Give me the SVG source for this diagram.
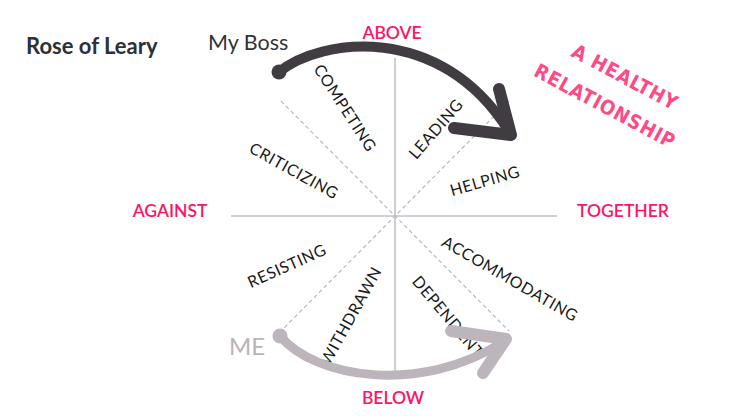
<svg xmlns="http://www.w3.org/2000/svg" width="740" height="416" viewBox="0 0 740 416">
<style>
.title{font-family:Lato,"Liberation Sans",sans-serif;font-weight:700;font-size:22px;fill:#2e3038}
.boss{font-family:Lato,"Liberation Sans",sans-serif;font-size:21.5px;fill:#333338}
.me{font-family:Lato,"Liberation Sans",sans-serif;font-size:24px;fill:#bab3b9}
.dir{font-family:Lato,"Liberation Sans",sans-serif;font-weight:600;font-size:17.5px;fill:#ff1464}
.oct{font-family:Lato,"Liberation Sans",sans-serif;font-size:16px;fill:#1a1a1a;letter-spacing:0.6px;text-anchor:middle}
.healthy{font-family:"DejaVu Sans Condensed","DejaVu Sans",sans-serif;font-weight:900;font-size:20px;fill:#ff4a84;letter-spacing:0.8px;text-anchor:middle}
.axis{stroke:#c2c0cc;stroke-width:1.6;fill:none}
.diag{stroke:#b8b8c6;stroke-width:1.2;stroke-dasharray:4 3;fill:none}
</style>
<rect width="740" height="416" fill="#ffffff"/>
<g id="axes">
<line class="axis" x1="395" y1="58" x2="395" y2="373"/>
<line class="axis" x1="231" y1="216" x2="557" y2="216"/>
<line class="diag" x1="281" y1="101" x2="509" y2="331"/>
<line class="diag" x1="509" y1="101" x2="281" y2="331"/>
</g>
<g id="title"><text class="title" x="26" y="54">Rose of Leary</text></g>
<g id="above"><text class="dir" x="392" y="39" text-anchor="middle">ABOVE</text></g>
<g id="below"><text class="dir" x="393" y="404" text-anchor="middle">BELOW</text></g>
<g id="against"><text class="dir" x="170" y="217" text-anchor="middle">AGAINST</text></g>
<g id="together"><text class="dir" x="623" y="217" text-anchor="middle">TOGETHER</text></g>
<g id="competing"><text class="oct" transform="translate(345,108) rotate(57)" y="5.5">COMPETING</text></g>
<g id="leading"><text class="oct" transform="translate(436,129) rotate(-49)" y="5.5">LEADING</text></g>
<g id="criticizing"><text class="oct" transform="translate(294,171) rotate(29)" y="5.5">CRITICIZING</text></g>
<g id="helping"><text class="oct" transform="translate(485,181) rotate(-16)" y="5.5">HELPING</text></g>
<g id="resisting"><text class="oct" transform="translate(287,266) rotate(-24)" y="5.5">RESISTING</text></g>
<g id="accommodating"><text class="oct" transform="translate(510,279) rotate(30)" y="5.5">ACCOMMODATING</text></g>
<g id="withdrawn"><text class="oct" transform="translate(351,316) rotate(-61)" y="5.5">WITHDRAWN</text></g>
<g id="dependent"><text class="oct" transform="translate(448,317) rotate(50)" y="5.5">DEPENDENT</text></g>
<g id="healthy">
<text class="healthy" transform="translate(625,77) rotate(28)" y="7">A HEALTHY</text>
<text class="healthy" transform="translate(605,106) rotate(28)" y="7">RELATIONSHIP</text>
</g>
<g id="my-boss"><text class="boss" x="208" y="50">My Boss</text></g>
<g id="me"><text class="me" x="229" y="355">ME</text></g>
<g id="connectors">
<g id="boss-arrow" stroke="#403c42" fill="none" stroke-linecap="round" stroke-linejoin="round">
<path d="M279,72 C320,38 440,22 508,130" stroke-width="10"/>
<path d="M499,89 L511,135 L454,128" stroke-width="12"/>
<circle cx="279" cy="72" r="7.5" fill="#403c42" stroke="none"/>
</g>
<g id="me-arrow" stroke="#bcb5bb" fill="none" stroke-linecap="round" stroke-linejoin="round">
<path d="M280,336 C315,378 420,395 503,342" stroke-width="9"/>
<path d="M451,331 L506,339 L483,373" stroke-width="12"/>
<circle cx="280" cy="336" r="7.5" fill="#bcb5bb" stroke="none"/>
</g>
</g>
</svg>
